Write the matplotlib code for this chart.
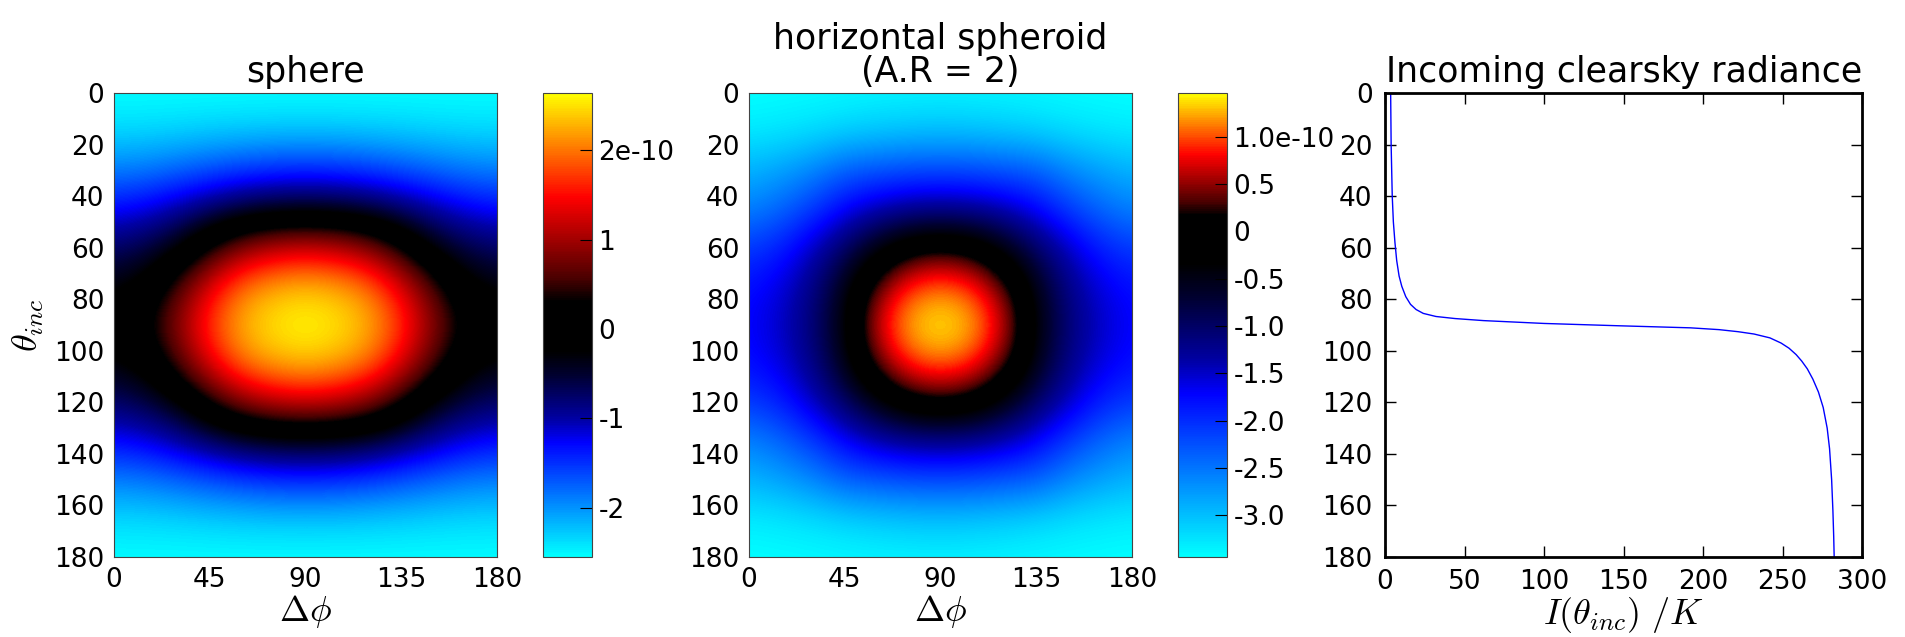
import matplotlib
matplotlib.use("Agg")
import matplotlib.pyplot as plt
import numpy as np
from matplotlib.colors import LinearSegmentedColormap, Normalize

plt.rcParams["mathtext.fontset"] = "cm"
plt.rcParams["font.family"] = "DejaVu Sans"

# grid of the two maps (degrees)
dphi = [0, 15, 30, 45, 60, 75, 90, 105, 120, 135, 150, 165, 180]
theta = [0, 15, 30, 45, 60, 75, 90, 105, 120, 135, 150, 165, 180]

# sphere, values in units of 1e-10 (rows = theta, cols = dphi)
sphere = [
    [-2.55, -2.55, -2.55, -2.55, -2.55, -2.55, -2.55, -2.55, -2.55, -2.55, -2.55, -2.55, -2.55],
    [-2.35, -2.34, -2.32, -2.29, -2.27, -2.25, -2.25, -2.25, -2.27, -2.29, -2.32, -2.34, -2.35],
    [-1.90, -1.86, -1.76, -1.65, -1.55, -1.48, -1.45, -1.48, -1.55, -1.65, -1.76, -1.86, -1.90],
    [-1.30, -1.20, -1.00, -0.78, -0.58, -0.48, -0.45, -0.48, -0.58, -0.78, -1.00, -1.20, -1.30],
    [-0.75, -0.60, -0.30, 0.30, 0.85, 1.15, 1.25, 1.15, 0.85, 0.30, -0.30, -0.60, -0.75],
    [-0.30, -0.10, 0.55, 1.35, 2.00, 2.25, 2.35, 2.25, 2.00, 1.35, 0.55, -0.10, -0.30],
    [-0.05, 0.25, 0.90, 1.75, 2.30, 2.55, 2.64, 2.55, 2.30, 1.75, 0.90, 0.25, -0.05],
    [-0.30, -0.10, 0.55, 1.35, 2.00, 2.25, 2.35, 2.25, 2.00, 1.35, 0.55, -0.10, -0.30],
    [-0.75, -0.60, -0.30, 0.30, 0.85, 1.15, 1.25, 1.15, 0.85, 0.30, -0.30, -0.60, -0.75],
    [-1.30, -1.20, -1.00, -0.78, -0.58, -0.48, -0.45, -0.48, -0.58, -0.78, -1.00, -1.20, -1.30],
    [-1.90, -1.86, -1.76, -1.65, -1.55, -1.48, -1.45, -1.48, -1.55, -1.65, -1.76, -1.86, -1.90],
    [-2.35, -2.34, -2.32, -2.29, -2.27, -2.25, -2.25, -2.25, -2.27, -2.29, -2.32, -2.34, -2.35],
    [-2.55, -2.55, -2.55, -2.55, -2.55, -2.55, -2.55, -2.55, -2.55, -2.55, -2.55, -2.55, -2.55],
]

# horizontal spheroid (A.R = 2), units of 1e-10
spheroid = [
    [-3.44, -3.43, -3.42, -3.40, -3.38, -3.37, -3.36, -3.37, -3.38, -3.40, -3.42, -3.43, -3.44],
    [-3.30, -3.26, -3.20, -3.12, -3.06, -3.02, -3.00, -3.02, -3.06, -3.12, -3.20, -3.26, -3.30],
    [-2.92, -2.80, -2.62, -2.35, -2.28, -2.22, -2.20, -2.22, -2.28, -2.35, -2.62, -2.80, -2.92],
    [-2.60, -2.40, -2.10, -1.72, -1.45, -1.30, -1.25, -1.30, -1.45, -1.72, -2.10, -2.40, -2.60],
    [-2.10, -1.90, -1.50, -1.00, -0.45, 0.00, 0.15, 0.00, -0.45, -1.00, -1.50, -1.90, -2.10],
    [-1.80, -1.60, -1.20, -0.50, 0.35, 0.95, 1.12, 0.95, 0.35, -0.50, -1.20, -1.60, -1.80],
    [-1.72, -1.50, -1.10, -0.40, 0.72, 1.30, 1.46, 1.30, 0.72, -0.40, -1.10, -1.50, -1.72],
    [-1.80, -1.60, -1.20, -0.50, 0.35, 0.95, 1.12, 0.95, 0.35, -0.50, -1.20, -1.60, -1.80],
    [-2.10, -1.90, -1.50, -1.00, -0.45, 0.00, 0.15, 0.00, -0.45, -1.00, -1.50, -1.90, -2.10],
    [-2.60, -2.40, -2.10, -1.72, -1.45, -1.30, -1.25, -1.30, -1.45, -1.72, -2.10, -2.40, -2.60],
    [-2.92, -2.80, -2.62, -2.35, -2.28, -2.22, -2.20, -2.22, -2.28, -2.35, -2.62, -2.80, -2.92],
    [-3.30, -3.26, -3.20, -3.12, -3.06, -3.02, -3.00, -3.02, -3.06, -3.12, -3.20, -3.26, -3.30],
    [-3.44, -3.43, -3.42, -3.40, -3.38, -3.37, -3.36, -3.37, -3.38, -3.40, -3.42, -3.43, -3.44],
]

# incoming clearsky radiance profile
theta_inc = [0, 20, 40, 50, 58, 65, 71, 75, 79, 82, 84, 85.5, 86.7, 87.5, 88.3, 89.4,
             90.3, 91.1, 91.8, 92.6, 93.5, 95, 97, 99, 101.5, 104, 107, 111, 116,
             122, 130, 138, 150, 162, 172, 180]
radiance = [3.5, 3.8, 4.5, 5.2, 6.2, 7.3, 8.8, 10.5, 13, 16, 19.5, 24, 32, 44, 62, 100,
            147, 192, 210, 222, 232, 242, 249, 254, 258.5, 262, 265.5, 269, 272.5,
            275.5, 278, 279.5, 280.8, 281.6, 282.1, 282.4]

sphere_ticks = [-2, -1, 0, 1, 2]
sphere_ticklabels = ["-2", "-1", "0", "1", "2e-10"]
spheroid_ticks = [-3.0, -2.5, -2.0, -1.5, -1.0, -0.5, 0, 0.5, 1.0]
spheroid_ticklabels = ["-3.0", "-2.5", "-2.0", "-1.5", "-1.0", "-0.5", "0", "0.5", "1.0e-10"]

# cyan - blue - black - red - yellow, black sitting on zero
base_nodes = [(0.00, (0, 1, 1)), (0.25, (0, 0, 1)), (0.30, (0, 0, 0.65)),
              (0.40, (0, 0, 0.18)), (0.45, (0, 0, 0)), (0.56, (0, 0, 0)),
              (0.61, (0.3, 0, 0)), (0.67, (0.55, 0, 0)), (0.78, (1, 0, 0)),
              (1.00, (1, 1, 0))]


def zero_cmap(vmin, vmax):
    nodes = []
    for p, c in base_nodes:
        v = vmin * (1 - 2 * p) if p < 0.5 else vmax * (2 * p - 1)
        nodes.append(((v - vmin) / (vmax - vmin), c))
    return LinearSegmentedColormap.from_list("zc", nodes)


fig = plt.figure(figsize=(19.06, 6.37), dpi=100)
bottom, height = 0.1256, 0.7284
tfs = 19
lfs = 25

panels = [
    (0.0598, 0.2849, sphere, "sphere", sphere_ticks, sphere_ticklabels),
    (0.3930, 0.6180, spheroid, "horizontal spheroid\n(A.R = 2)", spheroid_ticks, spheroid_ticklabels),
]
for i, (left, cleft, data, title, cticks, clabels) in enumerate(panels):
    z = np.array(data) * 1e-10
    ax = fig.add_axes([left, bottom, 0.2009, height])
    vmin, vmax = z.min(), z.max()
    im = ax.imshow(z, cmap=zero_cmap(vmin, vmax), norm=Normalize(vmin, vmax),
                   extent=[-7.5, 187.5, 187.5, -7.5], aspect="auto",
                   interpolation="bicubic")
    ax.set_xlim(0, 180)
    ax.set_ylim(180, 0)
    ax.set_xticks([0, 45, 90, 135, 180])
    ax.set_yticks(range(0, 181, 20))
    ax.tick_params(length=0, labelsize=tfs, pad=7)
    for s in ax.spines.values():
        s.set_linewidth(0.8)
        s.set_color("#444444")
    ax.set_title(title, fontsize=lfs, pad=8, linespacing=0.95)
    ax.set_xlabel(r"$\Delta\phi$", fontsize=lfs + 1, labelpad=0)
    if i == 0:
        ax.set_ylabel(r"$\theta_{inc}$", fontsize=lfs + 1, labelpad=6)

    cax = fig.add_axes([cleft, bottom, 0.0255, height])
    cb = fig.colorbar(im, cax=cax)
    cb.set_ticks([t * 1e-10 for t in cticks])
    cb.set_ticklabels(clabels)
    cax.tick_params(direction="in", length=9, width=0.8, labelsize=tfs, pad=5)
    cb.outline.set_linewidth(0.8)
    cb.outline.set_edgecolor("#444444")

ax3 = fig.add_axes([0.7267, bottom, 0.2503, height])
ax3.plot(radiance, theta_inc, color="blue", lw=1)
ax3.set_xlim(0, 300)
ax3.set_ylim(180, 0)
ax3.set_xticks(range(0, 301, 50))
ax3.set_yticks(range(0, 181, 20))
ax3.tick_params(direction="in", length=8, width=1, labelsize=tfs, pad=9,
                top=True, right=True)
for s in ax3.spines.values():
    s.set_linewidth(2)
ax3.set_title("Incoming clearsky radiance", fontsize=lfs, pad=8)
ax3.set_xlabel(r"$I(\theta_{inc})\ /K$", fontsize=lfs + 1, labelpad=0)

fig.savefig("out.png", dpi=100)
